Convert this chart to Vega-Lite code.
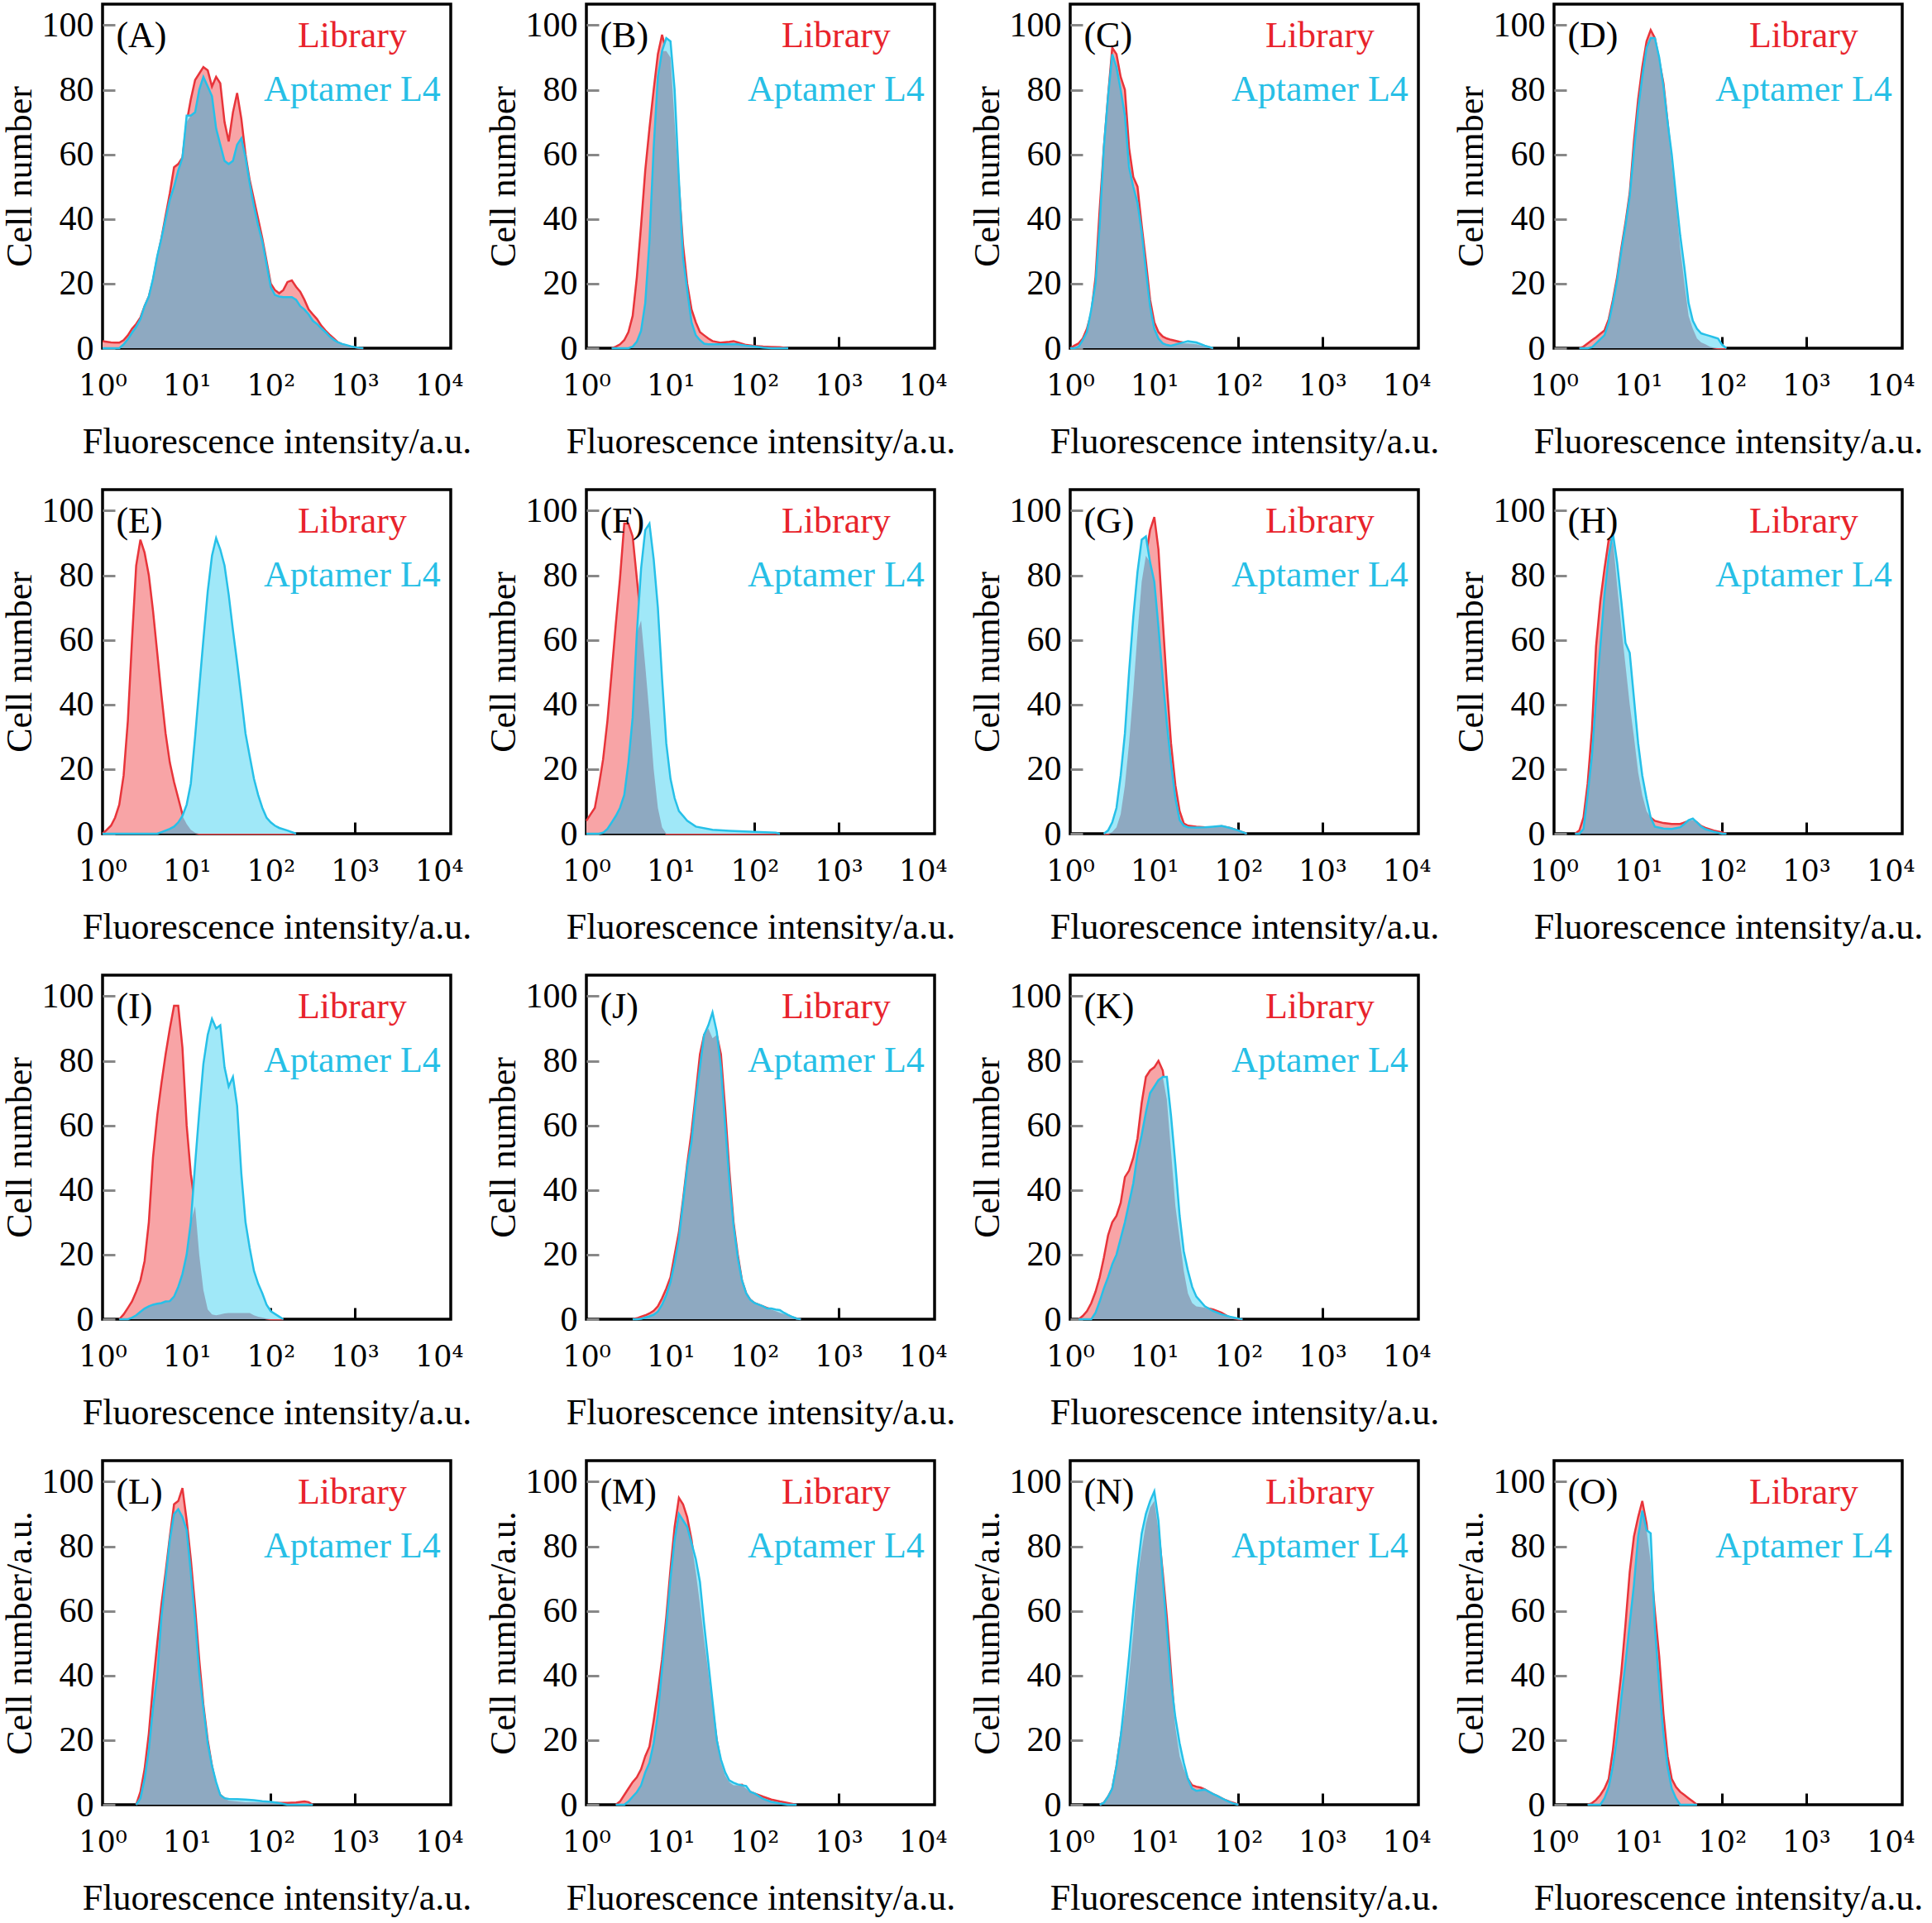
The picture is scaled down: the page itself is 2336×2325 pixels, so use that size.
{
  "$schema": "https://vega.github.io/schema/vega-lite/v6.json",
  "description": "Flow cytometry histograms, Library vs Aptamer L4, panels A-O",
  "autosize": "pad",
  "padding": {"left": 0, "top": 3, "right": 0, "bottom": 0},
  "background": "white",
  "datasets": {
    "h": [
      {"p":"A","x":1,"lib":2.2,"apt":0},{"p":"A","x":1.12,"lib":2,"apt":0},{"p":"A","x":1.26,"lib":1.8,"apt":0},{"p":"A","x":1.41,"lib":1.7,"apt":0},{"p":"A","x":1.58,"lib":1.7,"apt":0},{"p":"A","x":1.78,"lib":2.5,"apt":1.2},{"p":"A","x":2,"lib":4,"apt":2.8},{"p":"A","x":2.24,"lib":6,"apt":4.8},{"p":"A","x":2.51,"lib":7.5,"apt":6.6},{"p":"A","x":2.82,"lib":9.5,"apt":9},{"p":"A","x":3.16,"lib":13,"apt":13},{"p":"A","x":3.55,"lib":16,"apt":16},{"p":"A","x":3.98,"lib":21,"apt":21.5},{"p":"A","x":4.47,"lib":28,"apt":28.5},{"p":"A","x":5.01,"lib":34,"apt":34},{"p":"A","x":5.62,"lib":41,"apt":40},{"p":"A","x":6.31,"lib":48,"apt":46},{"p":"A","x":7.08,"lib":56,"apt":50},{"p":"A","x":7.94,"lib":57,"apt":55},{"p":"A","x":8.91,"lib":59,"apt":59},{"p":"A","x":10,"lib":70,"apt":72},{"p":"A","x":11.2,"lib":77,"apt":72},{"p":"A","x":12.6,"lib":83,"apt":73},{"p":"A","x":14.1,"lib":85,"apt":80},{"p":"A","x":15.8,"lib":87,"apt":84},{"p":"A","x":17.8,"lib":86,"apt":81},{"p":"A","x":20,"lib":81,"apt":78},{"p":"A","x":22.4,"lib":84,"apt":68},{"p":"A","x":25.1,"lib":82,"apt":63},{"p":"A","x":28.2,"lib":70,"apt":58},{"p":"A","x":31.6,"lib":64,"apt":57},{"p":"A","x":35.5,"lib":73,"apt":58},{"p":"A","x":39.8,"lib":79,"apt":63},{"p":"A","x":44.7,"lib":71,"apt":65},{"p":"A","x":50.1,"lib":60,"apt":59},{"p":"A","x":56.2,"lib":52,"apt":51},{"p":"A","x":63.1,"lib":46,"apt":44},{"p":"A","x":70.8,"lib":40,"apt":38},{"p":"A","x":79.4,"lib":34,"apt":33},{"p":"A","x":89.1,"lib":27,"apt":26},{"p":"A","x":100,"lib":20,"apt":19},{"p":"A","x":112,"lib":18,"apt":16.5},{"p":"A","x":126,"lib":17,"apt":16},{"p":"A","x":141,"lib":18,"apt":15.8},{"p":"A","x":158,"lib":20.5,"apt":15.8},{"p":"A","x":178,"lib":21,"apt":15.8},{"p":"A","x":200,"lib":19,"apt":15},{"p":"A","x":224,"lib":17.5,"apt":13},{"p":"A","x":251,"lib":15,"apt":12},{"p":"A","x":282,"lib":12,"apt":10.5},{"p":"A","x":316,"lib":10.5,"apt":8.5},{"p":"A","x":355,"lib":9,"apt":7.5},{"p":"A","x":398,"lib":7,"apt":6.2},{"p":"A","x":447,"lib":5.5,"apt":5},{"p":"A","x":501,"lib":4.2,"apt":3.6},{"p":"A","x":562,"lib":3,"apt":2.6},{"p":"A","x":631,"lib":1.8,"apt":1.8},{"p":"A","x":708,"lib":1.2,"apt":1.3},{"p":"A","x":794,"lib":0.8,"apt":1},{"p":"A","x":891,"lib":0.5,"apt":0.6},{"p":"A","x":1000,"lib":0.3,"apt":0.3},{"p":"A","x":1120,"lib":0,"apt":0.1},{"p":"A","x":1260,"lib":0,"apt":0},
      {"p":"B","x":2,"lib":0,"apt":0},{"p":"B","x":2.24,"lib":0.5,"apt":0},{"p":"B","x":2.51,"lib":1.2,"apt":0},{"p":"B","x":2.82,"lib":2.5,"apt":0},{"p":"B","x":3.16,"lib":5,"apt":0},{"p":"B","x":3.55,"lib":10,"apt":0.5},{"p":"B","x":3.98,"lib":22,"apt":2},{"p":"B","x":4.47,"lib":38,"apt":5.4},{"p":"B","x":5.01,"lib":55,"apt":14},{"p":"B","x":5.62,"lib":68,"apt":33},{"p":"B","x":6.31,"lib":80,"apt":62},{"p":"B","x":7.08,"lib":91,"apt":84},{"p":"B","x":7.94,"lib":97,"apt":92},{"p":"B","x":8.91,"lib":92,"apt":96},{"p":"B","x":10,"lib":90,"apt":95},{"p":"B","x":11.2,"lib":70,"apt":80},{"p":"B","x":12.6,"lib":50,"apt":52},{"p":"B","x":14.1,"lib":32,"apt":28},{"p":"B","x":15.8,"lib":20,"apt":18},{"p":"B","x":17.8,"lib":12,"apt":8},{"p":"B","x":20,"lib":8,"apt":4},{"p":"B","x":22.4,"lib":5,"apt":2.5},{"p":"B","x":25.1,"lib":4,"apt":1.4},{"p":"B","x":28.2,"lib":3,"apt":1.2},{"p":"B","x":31.6,"lib":2.2,"apt":1.2},{"p":"B","x":39.8,"lib":1.7,"apt":1.2},{"p":"B","x":50.1,"lib":2,"apt":1.2},{"p":"B","x":56.2,"lib":2.2,"apt":1.3},{"p":"B","x":63.1,"lib":1.8,"apt":1.2},{"p":"B","x":79.4,"lib":1,"apt":0.8},{"p":"B","x":100,"lib":0.7,"apt":0.5},{"p":"B","x":126,"lib":0.5,"apt":0.2},{"p":"B","x":158,"lib":0.4,"apt":0},{"p":"B","x":200,"lib":0.3,"apt":0},{"p":"B","x":251,"lib":0,"apt":0},
      {"p":"C","x":1,"lib":0,"apt":0},{"p":"C","x":1.12,"lib":0.8,"apt":0},{"p":"C","x":1.26,"lib":1.5,"apt":0.5},{"p":"C","x":1.41,"lib":3,"apt":2.5},{"p":"C","x":1.58,"lib":6,"apt":5},{"p":"C","x":1.78,"lib":11,"apt":12},{"p":"C","x":2,"lib":22,"apt":20},{"p":"C","x":2.24,"lib":43,"apt":38},{"p":"C","x":2.51,"lib":62,"apt":62},{"p":"C","x":2.82,"lib":78,"apt":78},{"p":"C","x":3.16,"lib":93,"apt":91},{"p":"C","x":3.55,"lib":91,"apt":87},{"p":"C","x":3.98,"lib":84,"apt":80},{"p":"C","x":4.47,"lib":80,"apt":72},{"p":"C","x":5.01,"lib":62,"apt":56},{"p":"C","x":5.62,"lib":53,"apt":50},{"p":"C","x":6.31,"lib":50,"apt":45},{"p":"C","x":7.08,"lib":38,"apt":36},{"p":"C","x":7.94,"lib":27,"apt":24},{"p":"C","x":8.91,"lib":15,"apt":13},{"p":"C","x":10,"lib":8,"apt":6},{"p":"C","x":11.2,"lib":5,"apt":3},{"p":"C","x":12.6,"lib":3.6,"apt":1.5},{"p":"C","x":14.1,"lib":3,"apt":1},{"p":"C","x":15.8,"lib":2.6,"apt":0.8},{"p":"C","x":20,"lib":2,"apt":1.5},{"p":"C","x":25.1,"lib":1.5,"apt":2.2},{"p":"C","x":31.6,"lib":1.2,"apt":1.8},{"p":"C","x":39.8,"lib":0.6,"apt":0.8},{"p":"C","x":50.1,"lib":0,"apt":0},
      {"p":"D","x":2,"lib":0,"apt":0},{"p":"D","x":2.24,"lib":0.5,"apt":0},{"p":"D","x":2.51,"lib":1.5,"apt":0},{"p":"D","x":2.82,"lib":2.5,"apt":0.3},{"p":"D","x":3.16,"lib":3.4,"apt":1.5},{"p":"D","x":3.55,"lib":4.5,"apt":2.8},{"p":"D","x":3.98,"lib":5.5,"apt":4},{"p":"D","x":4.47,"lib":9,"apt":8},{"p":"D","x":5.01,"lib":15,"apt":14},{"p":"D","x":5.62,"lib":22,"apt":21},{"p":"D","x":6.31,"lib":31,"apt":30},{"p":"D","x":7.08,"lib":39,"apt":38},{"p":"D","x":7.94,"lib":48,"apt":47},{"p":"D","x":8.91,"lib":64,"apt":61},{"p":"D","x":10,"lib":77,"apt":74},{"p":"D","x":11.2,"lib":87,"apt":84},{"p":"D","x":12.6,"lib":95,"apt":93},{"p":"D","x":14.1,"lib":98.5,"apt":96},{"p":"D","x":15.8,"lib":96,"apt":96},{"p":"D","x":17.8,"lib":89,"apt":90},{"p":"D","x":20,"lib":82,"apt":81},{"p":"D","x":22.4,"lib":70,"apt":70},{"p":"D","x":25.1,"lib":57,"apt":60},{"p":"D","x":28.2,"lib":45,"apt":47},{"p":"D","x":31.6,"lib":31,"apt":35},{"p":"D","x":35.5,"lib":20,"apt":25},{"p":"D","x":39.8,"lib":10,"apt":14},{"p":"D","x":44.7,"lib":6,"apt":8.5},{"p":"D","x":50.1,"lib":3,"apt":6},{"p":"D","x":56.2,"lib":1.8,"apt":4.6},{"p":"D","x":63.1,"lib":1.2,"apt":4.2},{"p":"D","x":70.8,"lib":0.5,"apt":3.8},{"p":"D","x":79.4,"lib":0.2,"apt":3.4},{"p":"D","x":89.1,"lib":0,"apt":3},{"p":"D","x":100,"lib":0,"apt":1},{"p":"D","x":112,"lib":0,"apt":0},
      {"p":"E","x":1,"lib":0,"apt":0},{"p":"E","x":1.12,"lib":1.2,"apt":0},{"p":"E","x":1.26,"lib":2.5,"apt":0},{"p":"E","x":1.41,"lib":5,"apt":0},{"p":"E","x":1.58,"lib":9,"apt":0},{"p":"E","x":1.78,"lib":18,"apt":0},{"p":"E","x":2,"lib":35,"apt":0},{"p":"E","x":2.24,"lib":60,"apt":0},{"p":"E","x":2.51,"lib":83,"apt":0},{"p":"E","x":2.82,"lib":91,"apt":0},{"p":"E","x":3.16,"lib":87,"apt":0},{"p":"E","x":3.55,"lib":80,"apt":0},{"p":"E","x":3.98,"lib":69,"apt":0},{"p":"E","x":4.47,"lib":56,"apt":0},{"p":"E","x":5.01,"lib":43,"apt":0.5},{"p":"E","x":5.62,"lib":31,"apt":1},{"p":"E","x":6.31,"lib":22,"apt":1.5},{"p":"E","x":7.08,"lib":16,"apt":2.2},{"p":"E","x":7.94,"lib":11,"apt":3.5},{"p":"E","x":8.91,"lib":6,"apt":5.5},{"p":"E","x":10,"lib":3,"apt":9},{"p":"E","x":11.2,"lib":1.2,"apt":15.5},{"p":"E","x":12.6,"lib":0.3,"apt":30},{"p":"E","x":14.1,"lib":0,"apt":45},{"p":"E","x":15.8,"lib":0,"apt":60},{"p":"E","x":17.8,"lib":0,"apt":75},{"p":"E","x":20,"lib":0,"apt":86},{"p":"E","x":22.4,"lib":0,"apt":91.5},{"p":"E","x":25.1,"lib":0,"apt":88},{"p":"E","x":28.2,"lib":0,"apt":83},{"p":"E","x":31.6,"lib":0,"apt":74},{"p":"E","x":35.5,"lib":0,"apt":63},{"p":"E","x":39.8,"lib":0,"apt":53},{"p":"E","x":44.7,"lib":0,"apt":42},{"p":"E","x":50.1,"lib":0,"apt":31},{"p":"E","x":56.2,"lib":0,"apt":24},{"p":"E","x":63.1,"lib":0,"apt":17},{"p":"E","x":70.8,"lib":0,"apt":12},{"p":"E","x":79.4,"lib":0,"apt":8},{"p":"E","x":89.1,"lib":0,"apt":5},{"p":"E","x":100,"lib":0,"apt":3.5},{"p":"E","x":112,"lib":0,"apt":2.5},{"p":"E","x":126,"lib":0,"apt":1.8},{"p":"E","x":158,"lib":0,"apt":1},{"p":"E","x":200,"lib":0,"apt":0},
      {"p":"F","x":1,"lib":4,"apt":0},{"p":"F","x":1.12,"lib":6,"apt":0},{"p":"F","x":1.26,"lib":8,"apt":0},{"p":"F","x":1.41,"lib":15,"apt":0},{"p":"F","x":1.58,"lib":23,"apt":0.3},{"p":"F","x":1.78,"lib":35,"apt":1.5},{"p":"F","x":2,"lib":50,"apt":3.5},{"p":"F","x":2.24,"lib":65,"apt":5.5},{"p":"F","x":2.51,"lib":79,"apt":8},{"p":"F","x":2.82,"lib":96,"apt":12},{"p":"F","x":3.16,"lib":96,"apt":22},{"p":"F","x":3.55,"lib":92,"apt":36},{"p":"F","x":3.98,"lib":79,"apt":62},{"p":"F","x":4.47,"lib":66,"apt":82},{"p":"F","x":5.01,"lib":52,"apt":94},{"p":"F","x":5.62,"lib":37,"apt":96},{"p":"F","x":6.31,"lib":20,"apt":85},{"p":"F","x":7.08,"lib":8,"apt":70},{"p":"F","x":7.94,"lib":2,"apt":48},{"p":"F","x":8.91,"lib":0,"apt":28},{"p":"F","x":10,"lib":0,"apt":17},{"p":"F","x":11.2,"lib":0,"apt":11},{"p":"F","x":12.6,"lib":0,"apt":7},{"p":"F","x":15.8,"lib":0,"apt":4},{"p":"F","x":20,"lib":0,"apt":2.2},{"p":"F","x":31.6,"lib":0,"apt":1.2},{"p":"F","x":50.1,"lib":0,"apt":0.9},{"p":"F","x":100,"lib":0,"apt":0.6},{"p":"F","x":178,"lib":0,"apt":0.3},{"p":"F","x":200,"lib":0,"apt":0},
      {"p":"G","x":2.51,"lib":0,"apt":0},{"p":"G","x":2.82,"lib":0,"apt":1},{"p":"G","x":3.16,"lib":0.5,"apt":3.5},{"p":"G","x":3.55,"lib":2,"apt":8},{"p":"G","x":3.98,"lib":6,"apt":18},{"p":"G","x":4.47,"lib":15,"apt":31},{"p":"G","x":5.01,"lib":28,"apt":50},{"p":"G","x":5.62,"lib":44,"apt":67},{"p":"G","x":6.31,"lib":62,"apt":81},{"p":"G","x":7.08,"lib":78,"apt":91},{"p":"G","x":7.94,"lib":86,"apt":92},{"p":"G","x":8.91,"lib":94,"apt":84},{"p":"G","x":10,"lib":98,"apt":78},{"p":"G","x":11.2,"lib":88,"apt":64},{"p":"G","x":12.6,"lib":66,"apt":48},{"p":"G","x":14.1,"lib":46,"apt":34},{"p":"G","x":15.8,"lib":28,"apt":22},{"p":"G","x":17.8,"lib":15,"apt":11},{"p":"G","x":20,"lib":7,"apt":4.2},{"p":"G","x":22.4,"lib":3.2,"apt":2.5},{"p":"G","x":25.1,"lib":2.5,"apt":2},{"p":"G","x":31.6,"lib":2.2,"apt":1.9},{"p":"G","x":39.8,"lib":2,"apt":2},{"p":"G","x":50.1,"lib":2,"apt":2.2},{"p":"G","x":63.1,"lib":2.3,"apt":2.4},{"p":"G","x":79.4,"lib":1.8,"apt":1.8},{"p":"G","x":100,"lib":1,"apt":1},{"p":"G","x":112,"lib":0.5,"apt":0.5},{"p":"G","x":126,"lib":0,"apt":0},
      {"p":"H","x":1.78,"lib":0,"apt":0},{"p":"H","x":2,"lib":1,"apt":0},{"p":"H","x":2.24,"lib":5,"apt":1.5},{"p":"H","x":2.51,"lib":15.5,"apt":12},{"p":"H","x":2.82,"lib":32,"apt":24},{"p":"H","x":3.16,"lib":58,"apt":42},{"p":"H","x":3.55,"lib":72,"apt":58},{"p":"H","x":3.98,"lib":82,"apt":74},{"p":"H","x":4.47,"lib":91,"apt":86},{"p":"H","x":5.01,"lib":91,"apt":93},{"p":"H","x":5.62,"lib":77,"apt":84},{"p":"H","x":6.31,"lib":64,"apt":72},{"p":"H","x":7.08,"lib":52,"apt":59},{"p":"H","x":7.94,"lib":40,"apt":56},{"p":"H","x":8.91,"lib":30,"apt":42},{"p":"H","x":10,"lib":19,"apt":28},{"p":"H","x":11.2,"lib":12,"apt":18},{"p":"H","x":12.6,"lib":7,"apt":10.8},{"p":"H","x":14.1,"lib":5,"apt":5},{"p":"H","x":15.8,"lib":4,"apt":2.2},{"p":"H","x":20,"lib":3.3,"apt":1.6},{"p":"H","x":25.1,"lib":3,"apt":1.5},{"p":"H","x":31.6,"lib":3,"apt":2},{"p":"H","x":35.5,"lib":3.5,"apt":3},{"p":"H","x":39.8,"lib":4,"apt":4.2},{"p":"H","x":44.7,"lib":4.2,"apt":4.7},{"p":"H","x":50.1,"lib":3.5,"apt":3.5},{"p":"H","x":56.2,"lib":2.4,"apt":2.2},{"p":"H","x":63.1,"lib":1.8,"apt":1.4},{"p":"H","x":79.4,"lib":1,"apt":0.6},{"p":"H","x":100,"lib":0.4,"apt":0},{"p":"H","x":112,"lib":0,"apt":0},
      {"p":"I","x":1.58,"lib":0,"apt":0},{"p":"I","x":1.78,"lib":1.5,"apt":0},{"p":"I","x":2,"lib":3.5,"apt":0},{"p":"I","x":2.24,"lib":5.5,"apt":0.5},{"p":"I","x":2.51,"lib":8.5,"apt":1.2},{"p":"I","x":2.82,"lib":12,"apt":2.3},{"p":"I","x":3.16,"lib":18,"apt":3.3},{"p":"I","x":3.55,"lib":30,"apt":4},{"p":"I","x":3.98,"lib":50,"apt":4.5},{"p":"I","x":4.47,"lib":63,"apt":4.8},{"p":"I","x":5.01,"lib":73,"apt":5},{"p":"I","x":5.62,"lib":82,"apt":5.5},{"p":"I","x":6.31,"lib":90,"apt":5.6},{"p":"I","x":7.08,"lib":97,"apt":7},{"p":"I","x":7.94,"lib":97,"apt":10},{"p":"I","x":8.91,"lib":84,"apt":14},{"p":"I","x":10,"lib":60,"apt":20},{"p":"I","x":11.2,"lib":45,"apt":30},{"p":"I","x":12.6,"lib":35,"apt":48},{"p":"I","x":14.1,"lib":20,"apt":64},{"p":"I","x":15.8,"lib":9,"apt":79},{"p":"I","x":17.8,"lib":3,"apt":88},{"p":"I","x":20,"lib":1.5,"apt":93},{"p":"I","x":22.4,"lib":1.2,"apt":90},{"p":"I","x":25.1,"lib":1.5,"apt":91},{"p":"I","x":28.2,"lib":1.8,"apt":78},{"p":"I","x":31.6,"lib":1.9,"apt":72},{"p":"I","x":35.5,"lib":1.9,"apt":75},{"p":"I","x":39.8,"lib":1.9,"apt":66},{"p":"I","x":44.7,"lib":1.9,"apt":45},{"p":"I","x":50.1,"lib":1.9,"apt":30},{"p":"I","x":56.2,"lib":1.9,"apt":22},{"p":"I","x":63.1,"lib":1.2,"apt":15},{"p":"I","x":70.8,"lib":0.8,"apt":11},{"p":"I","x":79.4,"lib":0.5,"apt":8},{"p":"I","x":89.1,"lib":0.2,"apt":4.5},{"p":"I","x":100,"lib":0,"apt":2.5},{"p":"I","x":126,"lib":0,"apt":0.8},{"p":"I","x":141,"lib":0,"apt":0},
      {"p":"J","x":3.55,"lib":0,"apt":0},{"p":"J","x":3.98,"lib":0.3,"apt":0},{"p":"J","x":4.47,"lib":0.8,"apt":0.1},{"p":"J","x":5.01,"lib":1.2,"apt":0.5},{"p":"J","x":5.62,"lib":1.8,"apt":0.9},{"p":"J","x":6.31,"lib":2.6,"apt":1.4},{"p":"J","x":7.08,"lib":4,"apt":2.4},{"p":"J","x":7.94,"lib":6.5,"apt":4.5},{"p":"J","x":8.91,"lib":9.5,"apt":7.5},{"p":"J","x":10,"lib":13,"apt":11.5},{"p":"J","x":11.2,"lib":20,"apt":17.5},{"p":"J","x":12.6,"lib":27,"apt":25},{"p":"J","x":14.1,"lib":37,"apt":36},{"p":"J","x":15.8,"lib":48,"apt":47},{"p":"J","x":17.8,"lib":58,"apt":55},{"p":"J","x":20,"lib":70,"apt":68},{"p":"J","x":22.4,"lib":82,"apt":78},{"p":"J","x":25.1,"lib":88,"apt":88},{"p":"J","x":28.2,"lib":90,"apt":91},{"p":"J","x":31.6,"lib":87,"apt":95},{"p":"J","x":35.5,"lib":88,"apt":89},{"p":"J","x":39.8,"lib":82,"apt":78},{"p":"J","x":44.7,"lib":65,"apt":60},{"p":"J","x":50.1,"lib":46,"apt":43},{"p":"J","x":56.2,"lib":30,"apt":29},{"p":"J","x":63.1,"lib":20,"apt":19},{"p":"J","x":70.8,"lib":12,"apt":12},{"p":"J","x":79.4,"lib":8,"apt":8},{"p":"J","x":89.1,"lib":6,"apt":6},{"p":"J","x":100,"lib":5,"apt":5},{"p":"J","x":126,"lib":4,"apt":4},{"p":"J","x":141,"lib":3.5,"apt":3.3},{"p":"J","x":158,"lib":3,"apt":3.3},{"p":"J","x":178,"lib":2.5,"apt":3},{"p":"J","x":200,"lib":2,"apt":2.8},{"p":"J","x":224,"lib":1.6,"apt":2},{"p":"J","x":251,"lib":1.2,"apt":1.3},{"p":"J","x":282,"lib":0.6,"apt":0.7},{"p":"J","x":316,"lib":0.2,"apt":0.2},{"p":"J","x":355,"lib":0,"apt":0},
      {"p":"K","x":1.26,"lib":0,"apt":0},{"p":"K","x":1.41,"lib":1,"apt":0},{"p":"K","x":1.58,"lib":2.5,"apt":0},{"p":"K","x":1.78,"lib":5,"apt":0},{"p":"K","x":2,"lib":8.5,"apt":2},{"p":"K","x":2.24,"lib":13,"apt":5.5},{"p":"K","x":2.51,"lib":19,"apt":9.5},{"p":"K","x":2.82,"lib":26,"apt":13},{"p":"K","x":3.16,"lib":30,"apt":17},{"p":"K","x":3.55,"lib":32,"apt":20},{"p":"K","x":3.98,"lib":36,"apt":25},{"p":"K","x":4.47,"lib":44,"apt":30},{"p":"K","x":5.01,"lib":46,"apt":36},{"p":"K","x":5.62,"lib":50,"apt":42},{"p":"K","x":6.31,"lib":56,"apt":51},{"p":"K","x":7.08,"lib":67,"apt":57},{"p":"K","x":7.94,"lib":75,"apt":64},{"p":"K","x":8.91,"lib":77,"apt":70},{"p":"K","x":10,"lib":78,"apt":72},{"p":"K","x":11.2,"lib":80,"apt":74},{"p":"K","x":12.6,"lib":77,"apt":75},{"p":"K","x":14.1,"lib":68,"apt":75},{"p":"K","x":15.8,"lib":52,"apt":63},{"p":"K","x":17.8,"lib":35,"apt":48},{"p":"K","x":20,"lib":25,"apt":32},{"p":"K","x":22.4,"lib":15,"apt":21},{"p":"K","x":25.1,"lib":8,"apt":15},{"p":"K","x":28.2,"lib":5,"apt":10},{"p":"K","x":31.6,"lib":4,"apt":7},{"p":"K","x":39.8,"lib":3.6,"apt":4},{"p":"K","x":50.1,"lib":3,"apt":2.5},{"p":"K","x":63.1,"lib":2,"apt":1.5},{"p":"K","x":79.4,"lib":0.5,"apt":0.8},{"p":"K","x":100,"lib":0,"apt":0.2},{"p":"K","x":112,"lib":0,"apt":0},
      {"p":"L","x":2.51,"lib":0,"apt":0},{"p":"L","x":2.82,"lib":4,"apt":2},{"p":"L","x":3.16,"lib":11,"apt":8},{"p":"L","x":3.55,"lib":22,"apt":17},{"p":"L","x":3.98,"lib":37,"apt":30},{"p":"L","x":4.47,"lib":50,"apt":40},{"p":"L","x":5.01,"lib":62,"apt":58},{"p":"L","x":5.62,"lib":72,"apt":70},{"p":"L","x":6.31,"lib":83,"apt":82},{"p":"L","x":7.08,"lib":93,"apt":90},{"p":"L","x":7.94,"lib":94,"apt":91.5},{"p":"L","x":8.91,"lib":98,"apt":89},{"p":"L","x":10,"lib":88,"apt":85},{"p":"L","x":11.2,"lib":76,"apt":72},{"p":"L","x":12.6,"lib":61,"apt":57},{"p":"L","x":14.1,"lib":45,"apt":41},{"p":"L","x":15.8,"lib":31,"apt":30},{"p":"L","x":17.8,"lib":20,"apt":19},{"p":"L","x":20,"lib":12,"apt":12},{"p":"L","x":22.4,"lib":6,"apt":7},{"p":"L","x":25.1,"lib":3,"apt":3},{"p":"L","x":28.2,"lib":2,"apt":2},{"p":"L","x":31.6,"lib":1.3,"apt":1.8},{"p":"L","x":39.8,"lib":1,"apt":1.7},{"p":"L","x":50.1,"lib":0.8,"apt":1.6},{"p":"L","x":63.1,"lib":0.8,"apt":1.4},{"p":"L","x":79.4,"lib":0.7,"apt":1.1},{"p":"L","x":100,"lib":0.7,"apt":0.9},{"p":"L","x":126,"lib":0.6,"apt":0.5},{"p":"L","x":158,"lib":0.6,"apt":0},{"p":"L","x":200,"lib":0.7,"apt":0},{"p":"L","x":251,"lib":1,"apt":0},{"p":"L","x":282,"lib":0.8,"apt":0},{"p":"L","x":316,"lib":0,"apt":0},
      {"p":"M","x":2.24,"lib":0,"apt":0},{"p":"M","x":2.51,"lib":1,"apt":0},{"p":"M","x":2.82,"lib":3,"apt":0},{"p":"M","x":3.16,"lib":5,"apt":1},{"p":"M","x":3.55,"lib":7,"apt":2.5},{"p":"M","x":3.98,"lib":8.5,"apt":3.9},{"p":"M","x":4.47,"lib":11,"apt":6},{"p":"M","x":5.01,"lib":15,"apt":10},{"p":"M","x":5.62,"lib":18,"apt":13},{"p":"M","x":6.31,"lib":26,"apt":19},{"p":"M","x":7.08,"lib":35,"apt":28},{"p":"M","x":7.94,"lib":45,"apt":42},{"p":"M","x":8.91,"lib":58,"apt":55},{"p":"M","x":10,"lib":73,"apt":70},{"p":"M","x":11.2,"lib":86,"apt":82},{"p":"M","x":12.6,"lib":95,"apt":90},{"p":"M","x":14.1,"lib":93,"apt":88},{"p":"M","x":15.8,"lib":89,"apt":86},{"p":"M","x":17.8,"lib":82,"apt":81},{"p":"M","x":20,"lib":72,"apt":76},{"p":"M","x":22.4,"lib":62,"apt":69},{"p":"M","x":25.1,"lib":51,"apt":56},{"p":"M","x":28.2,"lib":41,"apt":44},{"p":"M","x":31.6,"lib":30,"apt":32},{"p":"M","x":35.5,"lib":20,"apt":20},{"p":"M","x":39.8,"lib":13,"apt":14},{"p":"M","x":44.7,"lib":9,"apt":10},{"p":"M","x":50.1,"lib":7,"apt":7.5},{"p":"M","x":56.2,"lib":6,"apt":6.8},{"p":"M","x":63.1,"lib":6,"apt":6.3},{"p":"M","x":70.8,"lib":6.2,"apt":6},{"p":"M","x":79.4,"lib":5,"apt":5.8},{"p":"M","x":89.1,"lib":4,"apt":4},{"p":"M","x":100,"lib":3.5,"apt":3.5},{"p":"M","x":126,"lib":2.5,"apt":1.8},{"p":"M","x":158,"lib":1.6,"apt":0.9},{"p":"M","x":200,"lib":1,"apt":0.4},{"p":"M","x":251,"lib":0.5,"apt":0},{"p":"M","x":316,"lib":0,"apt":0},
      {"p":"N","x":2.24,"lib":0,"apt":0},{"p":"N","x":2.51,"lib":0.6,"apt":0.6},{"p":"N","x":2.82,"lib":2.5,"apt":2.5},{"p":"N","x":3.16,"lib":5,"apt":5},{"p":"N","x":3.55,"lib":12,"apt":12},{"p":"N","x":3.98,"lib":21,"apt":21},{"p":"N","x":4.47,"lib":29,"apt":33},{"p":"N","x":5.01,"lib":40,"apt":46},{"p":"N","x":5.62,"lib":53,"apt":60},{"p":"N","x":6.31,"lib":70,"apt":73},{"p":"N","x":7.08,"lib":79,"apt":84},{"p":"N","x":7.94,"lib":87,"apt":90},{"p":"N","x":8.91,"lib":92,"apt":94},{"p":"N","x":10,"lib":94,"apt":97},{"p":"N","x":11.2,"lib":85,"apt":88},{"p":"N","x":12.6,"lib":72,"apt":70},{"p":"N","x":14.1,"lib":58,"apt":54},{"p":"N","x":15.8,"lib":41,"apt":38},{"p":"N","x":17.8,"lib":24,"apt":27},{"p":"N","x":20,"lib":15,"apt":19},{"p":"N","x":22.4,"lib":11,"apt":13},{"p":"N","x":25.1,"lib":8,"apt":8},{"p":"N","x":28.2,"lib":6,"apt":5},{"p":"N","x":31.6,"lib":5.6,"apt":4.3},{"p":"N","x":35.5,"lib":5.3,"apt":4.5},{"p":"N","x":39.8,"lib":4.8,"apt":4.7},{"p":"N","x":44.7,"lib":4,"apt":4},{"p":"N","x":50.1,"lib":3.3,"apt":3.3},{"p":"N","x":56.2,"lib":2.7,"apt":2.7},{"p":"N","x":63.1,"lib":2,"apt":2},{"p":"N","x":70.8,"lib":1.4,"apt":1.4},{"p":"N","x":79.4,"lib":0.9,"apt":0.8},{"p":"N","x":89.1,"lib":0.5,"apt":0.3},{"p":"N","x":100,"lib":0,"apt":0},
      {"p":"O","x":2.51,"lib":0,"apt":0},{"p":"O","x":2.82,"lib":0.5,"apt":0},{"p":"O","x":3.16,"lib":1.5,"apt":0},{"p":"O","x":3.55,"lib":3,"apt":0},{"p":"O","x":3.98,"lib":5,"apt":2},{"p":"O","x":4.47,"lib":8,"apt":5.5},{"p":"O","x":5.01,"lib":17,"apt":12},{"p":"O","x":5.62,"lib":29,"apt":21},{"p":"O","x":6.31,"lib":41,"apt":33},{"p":"O","x":7.08,"lib":56,"apt":44},{"p":"O","x":7.94,"lib":72,"apt":56},{"p":"O","x":8.91,"lib":83,"apt":68},{"p":"O","x":10,"lib":89,"apt":83},{"p":"O","x":11.2,"lib":94,"apt":91},{"p":"O","x":12.6,"lib":87,"apt":85},{"p":"O","x":14.1,"lib":75,"apt":84},{"p":"O","x":15.8,"lib":60,"apt":55},{"p":"O","x":17.8,"lib":46,"apt":37},{"p":"O","x":20,"lib":28,"apt":22},{"p":"O","x":22.4,"lib":15,"apt":11.7},{"p":"O","x":25.1,"lib":8,"apt":5},{"p":"O","x":28.2,"lib":5.5,"apt":2},{"p":"O","x":31.6,"lib":4,"apt":0},{"p":"O","x":35.5,"lib":3,"apt":0},{"p":"O","x":39.8,"lib":2,"apt":0},{"p":"O","x":44.7,"lib":1,"apt":0},{"p":"O","x":50.1,"lib":0,"apt":0}
    ]
  },
  "data": {"name": "h"},
  "columns": 4,
  "bounds": "flush",
  "spacing": {"row": 171, "column": 164},
  "concat": [
    {"width":421,"height":416,"transform":[{"filter":"datum.p=='A'"}],"layer":[
      {"mark":{"type":"area","color":"#f8a4a6"},"encoding":{"x":{"field":"x","type":"quantitative","scale":{"type":"log","domain":[1,13800],"nice":false},"axis":{"values":[1,10,100,1000,10000],"title":"Fluorescence intensity/a.u.","labelExpr":"datum.value < 5 ? '10⁰' : datum.value < 50 ? '10¹' : datum.value < 500 ? '10²' : datum.value < 5000 ? '10³' : '10⁴'","tickColor":{"condition":{"test":"datum.value < 5 || datum.value > 5000","value":"transparent"},"value":"black"}}},"y":{"field":"lib","type":"quantitative","scale":{"domain":[0,106.5],"nice":false},"axis":{"values":[0,20,40,60,80,100],"title":"Cell number"}}}},
      {"mark":{"type":"line","color":"#e8343a","strokeWidth":2.5},"encoding":{"x":{"field":"x","type":"quantitative","scale":{"type":"log","domain":[1,13800],"nice":false}},"y":{"field":"lib","type":"quantitative","scale":{"domain":[0,106.5],"nice":false}}}},
      {"mark":{"type":"area","color":"#a0e8f8"},"encoding":{"x":{"field":"x","type":"quantitative","scale":{"type":"log","domain":[1,13800],"nice":false}},"y":{"field":"apt","type":"quantitative","scale":{"domain":[0,106.5],"nice":false}}}},
      {"transform":[{"fold":["lib","apt"],"as":["s","n"]}],"mark":{"type":"area","color":"#8b9eb7","opacity":0.85},"encoding":{"x":{"field":"x","type":"quantitative","scale":{"type":"log","domain":[1,13800],"nice":false}},"y":{"aggregate":"min","field":"n","type":"quantitative","scale":{"domain":[0,106.5],"nice":false}}}},
      {"mark":{"type":"line","color":"#26c0e8","strokeWidth":2.5},"encoding":{"x":{"field":"x","type":"quantitative","scale":{"type":"log","domain":[1,13800],"nice":false}},"y":{"field":"apt","type":"quantitative","scale":{"domain":[0,106.5],"nice":false}}}},
      {"data":{"values":[{"t":"(A)"}]},"mark":{"type":"text","align":"left","color":"black"},"encoding":{"x":{"datum":1.45,"type":"quantitative","scale":{"type":"log","domain":[1,13800],"nice":false}},"y":{"datum":93.2,"type":"quantitative","scale":{"domain":[0,106.5],"nice":false}},"text":{"field":"t"}}},
      {"data":{"values":[{"t":"Library"}]},"mark":{"type":"text","align":"center","color":"#e8232b"},"encoding":{"x":{"datum":930,"type":"quantitative","scale":{"type":"log","domain":[1,13800],"nice":false}},"y":{"datum":93.2,"type":"quantitative","scale":{"domain":[0,106.5],"nice":false}},"text":{"field":"t"}}},
      {"data":{"values":[{"t":"Aptamer L4"}]},"mark":{"type":"text","align":"center","color":"#27bfe6"},"encoding":{"x":{"datum":930,"type":"quantitative","scale":{"type":"log","domain":[1,13800],"nice":false}},"y":{"datum":76.5,"type":"quantitative","scale":{"domain":[0,106.5],"nice":false}},"text":{"field":"t"}}}
    ]},
    {"width":421,"height":416,"transform":[{"filter":"datum.p=='B'"}],"layer":[
      {"mark":{"type":"area","color":"#f8a4a6"},"encoding":{"x":{"field":"x","type":"quantitative","scale":{"type":"log","domain":[1,13800],"nice":false},"axis":{"values":[1,10,100,1000,10000],"title":"Fluorescence intensity/a.u.","labelExpr":"datum.value < 5 ? '10⁰' : datum.value < 50 ? '10¹' : datum.value < 500 ? '10²' : datum.value < 5000 ? '10³' : '10⁴'","tickColor":{"condition":{"test":"datum.value < 5 || datum.value > 5000","value":"transparent"},"value":"black"}}},"y":{"field":"lib","type":"quantitative","scale":{"domain":[0,106.5],"nice":false},"axis":{"values":[0,20,40,60,80,100],"title":"Cell number"}}}},
      {"mark":{"type":"line","color":"#e8343a","strokeWidth":2.5},"encoding":{"x":{"field":"x","type":"quantitative","scale":{"type":"log","domain":[1,13800],"nice":false}},"y":{"field":"lib","type":"quantitative","scale":{"domain":[0,106.5],"nice":false}}}},
      {"mark":{"type":"area","color":"#a0e8f8"},"encoding":{"x":{"field":"x","type":"quantitative","scale":{"type":"log","domain":[1,13800],"nice":false}},"y":{"field":"apt","type":"quantitative","scale":{"domain":[0,106.5],"nice":false}}}},
      {"transform":[{"fold":["lib","apt"],"as":["s","n"]}],"mark":{"type":"area","color":"#8b9eb7","opacity":0.85},"encoding":{"x":{"field":"x","type":"quantitative","scale":{"type":"log","domain":[1,13800],"nice":false}},"y":{"aggregate":"min","field":"n","type":"quantitative","scale":{"domain":[0,106.5],"nice":false}}}},
      {"mark":{"type":"line","color":"#26c0e8","strokeWidth":2.5},"encoding":{"x":{"field":"x","type":"quantitative","scale":{"type":"log","domain":[1,13800],"nice":false}},"y":{"field":"apt","type":"quantitative","scale":{"domain":[0,106.5],"nice":false}}}},
      {"data":{"values":[{"t":"(B)"}]},"mark":{"type":"text","align":"left","color":"black"},"encoding":{"x":{"datum":1.45,"type":"quantitative","scale":{"type":"log","domain":[1,13800],"nice":false}},"y":{"datum":93.2,"type":"quantitative","scale":{"domain":[0,106.5],"nice":false}},"text":{"field":"t"}}},
      {"data":{"values":[{"t":"Library"}]},"mark":{"type":"text","align":"center","color":"#e8232b"},"encoding":{"x":{"datum":930,"type":"quantitative","scale":{"type":"log","domain":[1,13800],"nice":false}},"y":{"datum":93.2,"type":"quantitative","scale":{"domain":[0,106.5],"nice":false}},"text":{"field":"t"}}},
      {"data":{"values":[{"t":"Aptamer L4"}]},"mark":{"type":"text","align":"center","color":"#27bfe6"},"encoding":{"x":{"datum":930,"type":"quantitative","scale":{"type":"log","domain":[1,13800],"nice":false}},"y":{"datum":76.5,"type":"quantitative","scale":{"domain":[0,106.5],"nice":false}},"text":{"field":"t"}}}
    ]},
    {"width":421,"height":416,"transform":[{"filter":"datum.p=='C'"}],"layer":[
      {"mark":{"type":"area","color":"#f8a4a6"},"encoding":{"x":{"field":"x","type":"quantitative","scale":{"type":"log","domain":[1,13800],"nice":false},"axis":{"values":[1,10,100,1000,10000],"title":"Fluorescence intensity/a.u.","labelExpr":"datum.value < 5 ? '10⁰' : datum.value < 50 ? '10¹' : datum.value < 500 ? '10²' : datum.value < 5000 ? '10³' : '10⁴'","tickColor":{"condition":{"test":"datum.value < 5 || datum.value > 5000","value":"transparent"},"value":"black"}}},"y":{"field":"lib","type":"quantitative","scale":{"domain":[0,106.5],"nice":false},"axis":{"values":[0,20,40,60,80,100],"title":"Cell number"}}}},
      {"mark":{"type":"line","color":"#e8343a","strokeWidth":2.5},"encoding":{"x":{"field":"x","type":"quantitative","scale":{"type":"log","domain":[1,13800],"nice":false}},"y":{"field":"lib","type":"quantitative","scale":{"domain":[0,106.5],"nice":false}}}},
      {"mark":{"type":"area","color":"#a0e8f8"},"encoding":{"x":{"field":"x","type":"quantitative","scale":{"type":"log","domain":[1,13800],"nice":false}},"y":{"field":"apt","type":"quantitative","scale":{"domain":[0,106.5],"nice":false}}}},
      {"transform":[{"fold":["lib","apt"],"as":["s","n"]}],"mark":{"type":"area","color":"#8b9eb7","opacity":0.85},"encoding":{"x":{"field":"x","type":"quantitative","scale":{"type":"log","domain":[1,13800],"nice":false}},"y":{"aggregate":"min","field":"n","type":"quantitative","scale":{"domain":[0,106.5],"nice":false}}}},
      {"mark":{"type":"line","color":"#26c0e8","strokeWidth":2.5},"encoding":{"x":{"field":"x","type":"quantitative","scale":{"type":"log","domain":[1,13800],"nice":false}},"y":{"field":"apt","type":"quantitative","scale":{"domain":[0,106.5],"nice":false}}}},
      {"data":{"values":[{"t":"(C)"}]},"mark":{"type":"text","align":"left","color":"black"},"encoding":{"x":{"datum":1.45,"type":"quantitative","scale":{"type":"log","domain":[1,13800],"nice":false}},"y":{"datum":93.2,"type":"quantitative","scale":{"domain":[0,106.5],"nice":false}},"text":{"field":"t"}}},
      {"data":{"values":[{"t":"Library"}]},"mark":{"type":"text","align":"center","color":"#e8232b"},"encoding":{"x":{"datum":930,"type":"quantitative","scale":{"type":"log","domain":[1,13800],"nice":false}},"y":{"datum":93.2,"type":"quantitative","scale":{"domain":[0,106.5],"nice":false}},"text":{"field":"t"}}},
      {"data":{"values":[{"t":"Aptamer L4"}]},"mark":{"type":"text","align":"center","color":"#27bfe6"},"encoding":{"x":{"datum":930,"type":"quantitative","scale":{"type":"log","domain":[1,13800],"nice":false}},"y":{"datum":76.5,"type":"quantitative","scale":{"domain":[0,106.5],"nice":false}},"text":{"field":"t"}}}
    ]},
    {"width":421,"height":416,"transform":[{"filter":"datum.p=='D'"}],"layer":[
      {"mark":{"type":"area","color":"#f8a4a6"},"encoding":{"x":{"field":"x","type":"quantitative","scale":{"type":"log","domain":[1,13800],"nice":false},"axis":{"values":[1,10,100,1000,10000],"title":"Fluorescence intensity/a.u.","labelExpr":"datum.value < 5 ? '10⁰' : datum.value < 50 ? '10¹' : datum.value < 500 ? '10²' : datum.value < 5000 ? '10³' : '10⁴'","tickColor":{"condition":{"test":"datum.value < 5 || datum.value > 5000","value":"transparent"},"value":"black"}}},"y":{"field":"lib","type":"quantitative","scale":{"domain":[0,106.5],"nice":false},"axis":{"values":[0,20,40,60,80,100],"title":"Cell number"}}}},
      {"mark":{"type":"line","color":"#e8343a","strokeWidth":2.5},"encoding":{"x":{"field":"x","type":"quantitative","scale":{"type":"log","domain":[1,13800],"nice":false}},"y":{"field":"lib","type":"quantitative","scale":{"domain":[0,106.5],"nice":false}}}},
      {"mark":{"type":"area","color":"#a0e8f8"},"encoding":{"x":{"field":"x","type":"quantitative","scale":{"type":"log","domain":[1,13800],"nice":false}},"y":{"field":"apt","type":"quantitative","scale":{"domain":[0,106.5],"nice":false}}}},
      {"transform":[{"fold":["lib","apt"],"as":["s","n"]}],"mark":{"type":"area","color":"#8b9eb7","opacity":0.85},"encoding":{"x":{"field":"x","type":"quantitative","scale":{"type":"log","domain":[1,13800],"nice":false}},"y":{"aggregate":"min","field":"n","type":"quantitative","scale":{"domain":[0,106.5],"nice":false}}}},
      {"mark":{"type":"line","color":"#26c0e8","strokeWidth":2.5},"encoding":{"x":{"field":"x","type":"quantitative","scale":{"type":"log","domain":[1,13800],"nice":false}},"y":{"field":"apt","type":"quantitative","scale":{"domain":[0,106.5],"nice":false}}}},
      {"data":{"values":[{"t":"(D)"}]},"mark":{"type":"text","align":"left","color":"black"},"encoding":{"x":{"datum":1.45,"type":"quantitative","scale":{"type":"log","domain":[1,13800],"nice":false}},"y":{"datum":93.2,"type":"quantitative","scale":{"domain":[0,106.5],"nice":false}},"text":{"field":"t"}}},
      {"data":{"values":[{"t":"Library"}]},"mark":{"type":"text","align":"center","color":"#e8232b"},"encoding":{"x":{"datum":930,"type":"quantitative","scale":{"type":"log","domain":[1,13800],"nice":false}},"y":{"datum":93.2,"type":"quantitative","scale":{"domain":[0,106.5],"nice":false}},"text":{"field":"t"}}},
      {"data":{"values":[{"t":"Aptamer L4"}]},"mark":{"type":"text","align":"center","color":"#27bfe6"},"encoding":{"x":{"datum":930,"type":"quantitative","scale":{"type":"log","domain":[1,13800],"nice":false}},"y":{"datum":76.5,"type":"quantitative","scale":{"domain":[0,106.5],"nice":false}},"text":{"field":"t"}}}
    ]},
    {"width":421,"height":416,"transform":[{"filter":"datum.p=='E'"}],"layer":[
      {"mark":{"type":"area","color":"#f8a4a6"},"encoding":{"x":{"field":"x","type":"quantitative","scale":{"type":"log","domain":[1,13800],"nice":false},"axis":{"values":[1,10,100,1000,10000],"title":"Fluorescence intensity/a.u.","labelExpr":"datum.value < 5 ? '10⁰' : datum.value < 50 ? '10¹' : datum.value < 500 ? '10²' : datum.value < 5000 ? '10³' : '10⁴'","tickColor":{"condition":{"test":"datum.value < 5 || datum.value > 5000","value":"transparent"},"value":"black"}}},"y":{"field":"lib","type":"quantitative","scale":{"domain":[0,106.5],"nice":false},"axis":{"values":[0,20,40,60,80,100],"title":"Cell number"}}}},
      {"mark":{"type":"line","color":"#e8343a","strokeWidth":2.5},"encoding":{"x":{"field":"x","type":"quantitative","scale":{"type":"log","domain":[1,13800],"nice":false}},"y":{"field":"lib","type":"quantitative","scale":{"domain":[0,106.5],"nice":false}}}},
      {"mark":{"type":"area","color":"#a0e8f8"},"encoding":{"x":{"field":"x","type":"quantitative","scale":{"type":"log","domain":[1,13800],"nice":false}},"y":{"field":"apt","type":"quantitative","scale":{"domain":[0,106.5],"nice":false}}}},
      {"transform":[{"fold":["lib","apt"],"as":["s","n"]}],"mark":{"type":"area","color":"#8b9eb7","opacity":0.85},"encoding":{"x":{"field":"x","type":"quantitative","scale":{"type":"log","domain":[1,13800],"nice":false}},"y":{"aggregate":"min","field":"n","type":"quantitative","scale":{"domain":[0,106.5],"nice":false}}}},
      {"mark":{"type":"line","color":"#26c0e8","strokeWidth":2.5},"encoding":{"x":{"field":"x","type":"quantitative","scale":{"type":"log","domain":[1,13800],"nice":false}},"y":{"field":"apt","type":"quantitative","scale":{"domain":[0,106.5],"nice":false}}}},
      {"data":{"values":[{"t":"(E)"}]},"mark":{"type":"text","align":"left","color":"black"},"encoding":{"x":{"datum":1.45,"type":"quantitative","scale":{"type":"log","domain":[1,13800],"nice":false}},"y":{"datum":93.2,"type":"quantitative","scale":{"domain":[0,106.5],"nice":false}},"text":{"field":"t"}}},
      {"data":{"values":[{"t":"Library"}]},"mark":{"type":"text","align":"center","color":"#e8232b"},"encoding":{"x":{"datum":930,"type":"quantitative","scale":{"type":"log","domain":[1,13800],"nice":false}},"y":{"datum":93.2,"type":"quantitative","scale":{"domain":[0,106.5],"nice":false}},"text":{"field":"t"}}},
      {"data":{"values":[{"t":"Aptamer L4"}]},"mark":{"type":"text","align":"center","color":"#27bfe6"},"encoding":{"x":{"datum":930,"type":"quantitative","scale":{"type":"log","domain":[1,13800],"nice":false}},"y":{"datum":76.5,"type":"quantitative","scale":{"domain":[0,106.5],"nice":false}},"text":{"field":"t"}}}
    ]},
    {"width":421,"height":416,"transform":[{"filter":"datum.p=='F'"}],"layer":[
      {"mark":{"type":"area","color":"#f8a4a6"},"encoding":{"x":{"field":"x","type":"quantitative","scale":{"type":"log","domain":[1,13800],"nice":false},"axis":{"values":[1,10,100,1000,10000],"title":"Fluorescence intensity/a.u.","labelExpr":"datum.value < 5 ? '10⁰' : datum.value < 50 ? '10¹' : datum.value < 500 ? '10²' : datum.value < 5000 ? '10³' : '10⁴'","tickColor":{"condition":{"test":"datum.value < 5 || datum.value > 5000","value":"transparent"},"value":"black"}}},"y":{"field":"lib","type":"quantitative","scale":{"domain":[0,106.5],"nice":false},"axis":{"values":[0,20,40,60,80,100],"title":"Cell number"}}}},
      {"mark":{"type":"line","color":"#e8343a","strokeWidth":2.5},"encoding":{"x":{"field":"x","type":"quantitative","scale":{"type":"log","domain":[1,13800],"nice":false}},"y":{"field":"lib","type":"quantitative","scale":{"domain":[0,106.5],"nice":false}}}},
      {"mark":{"type":"area","color":"#a0e8f8"},"encoding":{"x":{"field":"x","type":"quantitative","scale":{"type":"log","domain":[1,13800],"nice":false}},"y":{"field":"apt","type":"quantitative","scale":{"domain":[0,106.5],"nice":false}}}},
      {"transform":[{"fold":["lib","apt"],"as":["s","n"]}],"mark":{"type":"area","color":"#8b9eb7","opacity":0.85},"encoding":{"x":{"field":"x","type":"quantitative","scale":{"type":"log","domain":[1,13800],"nice":false}},"y":{"aggregate":"min","field":"n","type":"quantitative","scale":{"domain":[0,106.5],"nice":false}}}},
      {"mark":{"type":"line","color":"#26c0e8","strokeWidth":2.5},"encoding":{"x":{"field":"x","type":"quantitative","scale":{"type":"log","domain":[1,13800],"nice":false}},"y":{"field":"apt","type":"quantitative","scale":{"domain":[0,106.5],"nice":false}}}},
      {"data":{"values":[{"t":"(F)"}]},"mark":{"type":"text","align":"left","color":"black"},"encoding":{"x":{"datum":1.45,"type":"quantitative","scale":{"type":"log","domain":[1,13800],"nice":false}},"y":{"datum":93.2,"type":"quantitative","scale":{"domain":[0,106.5],"nice":false}},"text":{"field":"t"}}},
      {"data":{"values":[{"t":"Library"}]},"mark":{"type":"text","align":"center","color":"#e8232b"},"encoding":{"x":{"datum":930,"type":"quantitative","scale":{"type":"log","domain":[1,13800],"nice":false}},"y":{"datum":93.2,"type":"quantitative","scale":{"domain":[0,106.5],"nice":false}},"text":{"field":"t"}}},
      {"data":{"values":[{"t":"Aptamer L4"}]},"mark":{"type":"text","align":"center","color":"#27bfe6"},"encoding":{"x":{"datum":930,"type":"quantitative","scale":{"type":"log","domain":[1,13800],"nice":false}},"y":{"datum":76.5,"type":"quantitative","scale":{"domain":[0,106.5],"nice":false}},"text":{"field":"t"}}}
    ]},
    {"width":421,"height":416,"transform":[{"filter":"datum.p=='G'"}],"layer":[
      {"mark":{"type":"area","color":"#f8a4a6"},"encoding":{"x":{"field":"x","type":"quantitative","scale":{"type":"log","domain":[1,13800],"nice":false},"axis":{"values":[1,10,100,1000,10000],"title":"Fluorescence intensity/a.u.","labelExpr":"datum.value < 5 ? '10⁰' : datum.value < 50 ? '10¹' : datum.value < 500 ? '10²' : datum.value < 5000 ? '10³' : '10⁴'","tickColor":{"condition":{"test":"datum.value < 5 || datum.value > 5000","value":"transparent"},"value":"black"}}},"y":{"field":"lib","type":"quantitative","scale":{"domain":[0,106.5],"nice":false},"axis":{"values":[0,20,40,60,80,100],"title":"Cell number"}}}},
      {"mark":{"type":"line","color":"#e8343a","strokeWidth":2.5},"encoding":{"x":{"field":"x","type":"quantitative","scale":{"type":"log","domain":[1,13800],"nice":false}},"y":{"field":"lib","type":"quantitative","scale":{"domain":[0,106.5],"nice":false}}}},
      {"mark":{"type":"area","color":"#a0e8f8"},"encoding":{"x":{"field":"x","type":"quantitative","scale":{"type":"log","domain":[1,13800],"nice":false}},"y":{"field":"apt","type":"quantitative","scale":{"domain":[0,106.5],"nice":false}}}},
      {"transform":[{"fold":["lib","apt"],"as":["s","n"]}],"mark":{"type":"area","color":"#8b9eb7","opacity":0.85},"encoding":{"x":{"field":"x","type":"quantitative","scale":{"type":"log","domain":[1,13800],"nice":false}},"y":{"aggregate":"min","field":"n","type":"quantitative","scale":{"domain":[0,106.5],"nice":false}}}},
      {"mark":{"type":"line","color":"#26c0e8","strokeWidth":2.5},"encoding":{"x":{"field":"x","type":"quantitative","scale":{"type":"log","domain":[1,13800],"nice":false}},"y":{"field":"apt","type":"quantitative","scale":{"domain":[0,106.5],"nice":false}}}},
      {"data":{"values":[{"t":"(G)"}]},"mark":{"type":"text","align":"left","color":"black"},"encoding":{"x":{"datum":1.45,"type":"quantitative","scale":{"type":"log","domain":[1,13800],"nice":false}},"y":{"datum":93.2,"type":"quantitative","scale":{"domain":[0,106.5],"nice":false}},"text":{"field":"t"}}},
      {"data":{"values":[{"t":"Library"}]},"mark":{"type":"text","align":"center","color":"#e8232b"},"encoding":{"x":{"datum":930,"type":"quantitative","scale":{"type":"log","domain":[1,13800],"nice":false}},"y":{"datum":93.2,"type":"quantitative","scale":{"domain":[0,106.5],"nice":false}},"text":{"field":"t"}}},
      {"data":{"values":[{"t":"Aptamer L4"}]},"mark":{"type":"text","align":"center","color":"#27bfe6"},"encoding":{"x":{"datum":930,"type":"quantitative","scale":{"type":"log","domain":[1,13800],"nice":false}},"y":{"datum":76.5,"type":"quantitative","scale":{"domain":[0,106.5],"nice":false}},"text":{"field":"t"}}}
    ]},
    {"width":421,"height":416,"transform":[{"filter":"datum.p=='H'"}],"layer":[
      {"mark":{"type":"area","color":"#f8a4a6"},"encoding":{"x":{"field":"x","type":"quantitative","scale":{"type":"log","domain":[1,13800],"nice":false},"axis":{"values":[1,10,100,1000,10000],"title":"Fluorescence intensity/a.u.","labelExpr":"datum.value < 5 ? '10⁰' : datum.value < 50 ? '10¹' : datum.value < 500 ? '10²' : datum.value < 5000 ? '10³' : '10⁴'","tickColor":{"condition":{"test":"datum.value < 5 || datum.value > 5000","value":"transparent"},"value":"black"}}},"y":{"field":"lib","type":"quantitative","scale":{"domain":[0,106.5],"nice":false},"axis":{"values":[0,20,40,60,80,100],"title":"Cell number"}}}},
      {"mark":{"type":"line","color":"#e8343a","strokeWidth":2.5},"encoding":{"x":{"field":"x","type":"quantitative","scale":{"type":"log","domain":[1,13800],"nice":false}},"y":{"field":"lib","type":"quantitative","scale":{"domain":[0,106.5],"nice":false}}}},
      {"mark":{"type":"area","color":"#a0e8f8"},"encoding":{"x":{"field":"x","type":"quantitative","scale":{"type":"log","domain":[1,13800],"nice":false}},"y":{"field":"apt","type":"quantitative","scale":{"domain":[0,106.5],"nice":false}}}},
      {"transform":[{"fold":["lib","apt"],"as":["s","n"]}],"mark":{"type":"area","color":"#8b9eb7","opacity":0.85},"encoding":{"x":{"field":"x","type":"quantitative","scale":{"type":"log","domain":[1,13800],"nice":false}},"y":{"aggregate":"min","field":"n","type":"quantitative","scale":{"domain":[0,106.5],"nice":false}}}},
      {"mark":{"type":"line","color":"#26c0e8","strokeWidth":2.5},"encoding":{"x":{"field":"x","type":"quantitative","scale":{"type":"log","domain":[1,13800],"nice":false}},"y":{"field":"apt","type":"quantitative","scale":{"domain":[0,106.5],"nice":false}}}},
      {"data":{"values":[{"t":"(H)"}]},"mark":{"type":"text","align":"left","color":"black"},"encoding":{"x":{"datum":1.45,"type":"quantitative","scale":{"type":"log","domain":[1,13800],"nice":false}},"y":{"datum":93.2,"type":"quantitative","scale":{"domain":[0,106.5],"nice":false}},"text":{"field":"t"}}},
      {"data":{"values":[{"t":"Library"}]},"mark":{"type":"text","align":"center","color":"#e8232b"},"encoding":{"x":{"datum":930,"type":"quantitative","scale":{"type":"log","domain":[1,13800],"nice":false}},"y":{"datum":93.2,"type":"quantitative","scale":{"domain":[0,106.5],"nice":false}},"text":{"field":"t"}}},
      {"data":{"values":[{"t":"Aptamer L4"}]},"mark":{"type":"text","align":"center","color":"#27bfe6"},"encoding":{"x":{"datum":930,"type":"quantitative","scale":{"type":"log","domain":[1,13800],"nice":false}},"y":{"datum":76.5,"type":"quantitative","scale":{"domain":[0,106.5],"nice":false}},"text":{"field":"t"}}}
    ]},
    {"width":421,"height":416,"transform":[{"filter":"datum.p=='I'"}],"layer":[
      {"mark":{"type":"area","color":"#f8a4a6"},"encoding":{"x":{"field":"x","type":"quantitative","scale":{"type":"log","domain":[1,13800],"nice":false},"axis":{"values":[1,10,100,1000,10000],"title":"Fluorescence intensity/a.u.","labelExpr":"datum.value < 5 ? '10⁰' : datum.value < 50 ? '10¹' : datum.value < 500 ? '10²' : datum.value < 5000 ? '10³' : '10⁴'","tickColor":{"condition":{"test":"datum.value < 5 || datum.value > 5000","value":"transparent"},"value":"black"}}},"y":{"field":"lib","type":"quantitative","scale":{"domain":[0,106.5],"nice":false},"axis":{"values":[0,20,40,60,80,100],"title":"Cell number"}}}},
      {"mark":{"type":"line","color":"#e8343a","strokeWidth":2.5},"encoding":{"x":{"field":"x","type":"quantitative","scale":{"type":"log","domain":[1,13800],"nice":false}},"y":{"field":"lib","type":"quantitative","scale":{"domain":[0,106.5],"nice":false}}}},
      {"mark":{"type":"area","color":"#a0e8f8"},"encoding":{"x":{"field":"x","type":"quantitative","scale":{"type":"log","domain":[1,13800],"nice":false}},"y":{"field":"apt","type":"quantitative","scale":{"domain":[0,106.5],"nice":false}}}},
      {"transform":[{"fold":["lib","apt"],"as":["s","n"]}],"mark":{"type":"area","color":"#8b9eb7","opacity":0.85},"encoding":{"x":{"field":"x","type":"quantitative","scale":{"type":"log","domain":[1,13800],"nice":false}},"y":{"aggregate":"min","field":"n","type":"quantitative","scale":{"domain":[0,106.5],"nice":false}}}},
      {"mark":{"type":"line","color":"#26c0e8","strokeWidth":2.5},"encoding":{"x":{"field":"x","type":"quantitative","scale":{"type":"log","domain":[1,13800],"nice":false}},"y":{"field":"apt","type":"quantitative","scale":{"domain":[0,106.5],"nice":false}}}},
      {"data":{"values":[{"t":"(I)"}]},"mark":{"type":"text","align":"left","color":"black"},"encoding":{"x":{"datum":1.45,"type":"quantitative","scale":{"type":"log","domain":[1,13800],"nice":false}},"y":{"datum":93.2,"type":"quantitative","scale":{"domain":[0,106.5],"nice":false}},"text":{"field":"t"}}},
      {"data":{"values":[{"t":"Library"}]},"mark":{"type":"text","align":"center","color":"#e8232b"},"encoding":{"x":{"datum":930,"type":"quantitative","scale":{"type":"log","domain":[1,13800],"nice":false}},"y":{"datum":93.2,"type":"quantitative","scale":{"domain":[0,106.5],"nice":false}},"text":{"field":"t"}}},
      {"data":{"values":[{"t":"Aptamer L4"}]},"mark":{"type":"text","align":"center","color":"#27bfe6"},"encoding":{"x":{"datum":930,"type":"quantitative","scale":{"type":"log","domain":[1,13800],"nice":false}},"y":{"datum":76.5,"type":"quantitative","scale":{"domain":[0,106.5],"nice":false}},"text":{"field":"t"}}}
    ]},
    {"width":421,"height":416,"transform":[{"filter":"datum.p=='J'"}],"layer":[
      {"mark":{"type":"area","color":"#f8a4a6"},"encoding":{"x":{"field":"x","type":"quantitative","scale":{"type":"log","domain":[1,13800],"nice":false},"axis":{"values":[1,10,100,1000,10000],"title":"Fluorescence intensity/a.u.","labelExpr":"datum.value < 5 ? '10⁰' : datum.value < 50 ? '10¹' : datum.value < 500 ? '10²' : datum.value < 5000 ? '10³' : '10⁴'","tickColor":{"condition":{"test":"datum.value < 5 || datum.value > 5000","value":"transparent"},"value":"black"}}},"y":{"field":"lib","type":"quantitative","scale":{"domain":[0,106.5],"nice":false},"axis":{"values":[0,20,40,60,80,100],"title":"Cell number"}}}},
      {"mark":{"type":"line","color":"#e8343a","strokeWidth":2.5},"encoding":{"x":{"field":"x","type":"quantitative","scale":{"type":"log","domain":[1,13800],"nice":false}},"y":{"field":"lib","type":"quantitative","scale":{"domain":[0,106.5],"nice":false}}}},
      {"mark":{"type":"area","color":"#a0e8f8"},"encoding":{"x":{"field":"x","type":"quantitative","scale":{"type":"log","domain":[1,13800],"nice":false}},"y":{"field":"apt","type":"quantitative","scale":{"domain":[0,106.5],"nice":false}}}},
      {"transform":[{"fold":["lib","apt"],"as":["s","n"]}],"mark":{"type":"area","color":"#8b9eb7","opacity":0.85},"encoding":{"x":{"field":"x","type":"quantitative","scale":{"type":"log","domain":[1,13800],"nice":false}},"y":{"aggregate":"min","field":"n","type":"quantitative","scale":{"domain":[0,106.5],"nice":false}}}},
      {"mark":{"type":"line","color":"#26c0e8","strokeWidth":2.5},"encoding":{"x":{"field":"x","type":"quantitative","scale":{"type":"log","domain":[1,13800],"nice":false}},"y":{"field":"apt","type":"quantitative","scale":{"domain":[0,106.5],"nice":false}}}},
      {"data":{"values":[{"t":"(J)"}]},"mark":{"type":"text","align":"left","color":"black"},"encoding":{"x":{"datum":1.45,"type":"quantitative","scale":{"type":"log","domain":[1,13800],"nice":false}},"y":{"datum":93.2,"type":"quantitative","scale":{"domain":[0,106.5],"nice":false}},"text":{"field":"t"}}},
      {"data":{"values":[{"t":"Library"}]},"mark":{"type":"text","align":"center","color":"#e8232b"},"encoding":{"x":{"datum":930,"type":"quantitative","scale":{"type":"log","domain":[1,13800],"nice":false}},"y":{"datum":93.2,"type":"quantitative","scale":{"domain":[0,106.5],"nice":false}},"text":{"field":"t"}}},
      {"data":{"values":[{"t":"Aptamer L4"}]},"mark":{"type":"text","align":"center","color":"#27bfe6"},"encoding":{"x":{"datum":930,"type":"quantitative","scale":{"type":"log","domain":[1,13800],"nice":false}},"y":{"datum":76.5,"type":"quantitative","scale":{"domain":[0,106.5],"nice":false}},"text":{"field":"t"}}}
    ]},
    {"width":421,"height":416,"transform":[{"filter":"datum.p=='K'"}],"layer":[
      {"mark":{"type":"area","color":"#f8a4a6"},"encoding":{"x":{"field":"x","type":"quantitative","scale":{"type":"log","domain":[1,13800],"nice":false},"axis":{"values":[1,10,100,1000,10000],"title":"Fluorescence intensity/a.u.","labelExpr":"datum.value < 5 ? '10⁰' : datum.value < 50 ? '10¹' : datum.value < 500 ? '10²' : datum.value < 5000 ? '10³' : '10⁴'","tickColor":{"condition":{"test":"datum.value < 5 || datum.value > 5000","value":"transparent"},"value":"black"}}},"y":{"field":"lib","type":"quantitative","scale":{"domain":[0,106.5],"nice":false},"axis":{"values":[0,20,40,60,80,100],"title":"Cell number"}}}},
      {"mark":{"type":"line","color":"#e8343a","strokeWidth":2.5},"encoding":{"x":{"field":"x","type":"quantitative","scale":{"type":"log","domain":[1,13800],"nice":false}},"y":{"field":"lib","type":"quantitative","scale":{"domain":[0,106.5],"nice":false}}}},
      {"mark":{"type":"area","color":"#a0e8f8"},"encoding":{"x":{"field":"x","type":"quantitative","scale":{"type":"log","domain":[1,13800],"nice":false}},"y":{"field":"apt","type":"quantitative","scale":{"domain":[0,106.5],"nice":false}}}},
      {"transform":[{"fold":["lib","apt"],"as":["s","n"]}],"mark":{"type":"area","color":"#8b9eb7","opacity":0.85},"encoding":{"x":{"field":"x","type":"quantitative","scale":{"type":"log","domain":[1,13800],"nice":false}},"y":{"aggregate":"min","field":"n","type":"quantitative","scale":{"domain":[0,106.5],"nice":false}}}},
      {"mark":{"type":"line","color":"#26c0e8","strokeWidth":2.5},"encoding":{"x":{"field":"x","type":"quantitative","scale":{"type":"log","domain":[1,13800],"nice":false}},"y":{"field":"apt","type":"quantitative","scale":{"domain":[0,106.5],"nice":false}}}},
      {"data":{"values":[{"t":"(K)"}]},"mark":{"type":"text","align":"left","color":"black"},"encoding":{"x":{"datum":1.45,"type":"quantitative","scale":{"type":"log","domain":[1,13800],"nice":false}},"y":{"datum":93.2,"type":"quantitative","scale":{"domain":[0,106.5],"nice":false}},"text":{"field":"t"}}},
      {"data":{"values":[{"t":"Library"}]},"mark":{"type":"text","align":"center","color":"#e8232b"},"encoding":{"x":{"datum":930,"type":"quantitative","scale":{"type":"log","domain":[1,13800],"nice":false}},"y":{"datum":93.2,"type":"quantitative","scale":{"domain":[0,106.5],"nice":false}},"text":{"field":"t"}}},
      {"data":{"values":[{"t":"Aptamer L4"}]},"mark":{"type":"text","align":"center","color":"#27bfe6"},"encoding":{"x":{"datum":930,"type":"quantitative","scale":{"type":"log","domain":[1,13800],"nice":false}},"y":{"datum":76.5,"type":"quantitative","scale":{"domain":[0,106.5],"nice":false}},"text":{"field":"t"}}}
    ]},
    {"width":421,"height":416,"data":{"values":[]},"mark":"point","encoding":{},"view":{"stroke":null}},
    {"width":421,"height":416,"transform":[{"filter":"datum.p=='L'"}],"layer":[
      {"mark":{"type":"area","color":"#f8a4a6"},"encoding":{"x":{"field":"x","type":"quantitative","scale":{"type":"log","domain":[1,13800],"nice":false},"axis":{"values":[1,10,100,1000,10000],"title":"Fluorescence intensity/a.u.","labelExpr":"datum.value < 5 ? '10⁰' : datum.value < 50 ? '10¹' : datum.value < 500 ? '10²' : datum.value < 5000 ? '10³' : '10⁴'","tickColor":{"condition":{"test":"datum.value < 5 || datum.value > 5000","value":"transparent"},"value":"black"}}},"y":{"field":"lib","type":"quantitative","scale":{"domain":[0,106.5],"nice":false},"axis":{"values":[0,20,40,60,80,100],"title":"Cell number/a.u."}}}},
      {"mark":{"type":"line","color":"#e8343a","strokeWidth":2.5},"encoding":{"x":{"field":"x","type":"quantitative","scale":{"type":"log","domain":[1,13800],"nice":false}},"y":{"field":"lib","type":"quantitative","scale":{"domain":[0,106.5],"nice":false}}}},
      {"mark":{"type":"area","color":"#a0e8f8"},"encoding":{"x":{"field":"x","type":"quantitative","scale":{"type":"log","domain":[1,13800],"nice":false}},"y":{"field":"apt","type":"quantitative","scale":{"domain":[0,106.5],"nice":false}}}},
      {"transform":[{"fold":["lib","apt"],"as":["s","n"]}],"mark":{"type":"area","color":"#8b9eb7","opacity":0.85},"encoding":{"x":{"field":"x","type":"quantitative","scale":{"type":"log","domain":[1,13800],"nice":false}},"y":{"aggregate":"min","field":"n","type":"quantitative","scale":{"domain":[0,106.5],"nice":false}}}},
      {"mark":{"type":"line","color":"#26c0e8","strokeWidth":2.5},"encoding":{"x":{"field":"x","type":"quantitative","scale":{"type":"log","domain":[1,13800],"nice":false}},"y":{"field":"apt","type":"quantitative","scale":{"domain":[0,106.5],"nice":false}}}},
      {"data":{"values":[{"t":"(L)"}]},"mark":{"type":"text","align":"left","color":"black"},"encoding":{"x":{"datum":1.45,"type":"quantitative","scale":{"type":"log","domain":[1,13800],"nice":false}},"y":{"datum":93.2,"type":"quantitative","scale":{"domain":[0,106.5],"nice":false}},"text":{"field":"t"}}},
      {"data":{"values":[{"t":"Library"}]},"mark":{"type":"text","align":"center","color":"#e8232b"},"encoding":{"x":{"datum":930,"type":"quantitative","scale":{"type":"log","domain":[1,13800],"nice":false}},"y":{"datum":93.2,"type":"quantitative","scale":{"domain":[0,106.5],"nice":false}},"text":{"field":"t"}}},
      {"data":{"values":[{"t":"Aptamer L4"}]},"mark":{"type":"text","align":"center","color":"#27bfe6"},"encoding":{"x":{"datum":930,"type":"quantitative","scale":{"type":"log","domain":[1,13800],"nice":false}},"y":{"datum":76.5,"type":"quantitative","scale":{"domain":[0,106.5],"nice":false}},"text":{"field":"t"}}}
    ]},
    {"width":421,"height":416,"transform":[{"filter":"datum.p=='M'"}],"layer":[
      {"mark":{"type":"area","color":"#f8a4a6"},"encoding":{"x":{"field":"x","type":"quantitative","scale":{"type":"log","domain":[1,13800],"nice":false},"axis":{"values":[1,10,100,1000,10000],"title":"Fluorescence intensity/a.u.","labelExpr":"datum.value < 5 ? '10⁰' : datum.value < 50 ? '10¹' : datum.value < 500 ? '10²' : datum.value < 5000 ? '10³' : '10⁴'","tickColor":{"condition":{"test":"datum.value < 5 || datum.value > 5000","value":"transparent"},"value":"black"}}},"y":{"field":"lib","type":"quantitative","scale":{"domain":[0,106.5],"nice":false},"axis":{"values":[0,20,40,60,80,100],"title":"Cell number/a.u."}}}},
      {"mark":{"type":"line","color":"#e8343a","strokeWidth":2.5},"encoding":{"x":{"field":"x","type":"quantitative","scale":{"type":"log","domain":[1,13800],"nice":false}},"y":{"field":"lib","type":"quantitative","scale":{"domain":[0,106.5],"nice":false}}}},
      {"mark":{"type":"area","color":"#a0e8f8"},"encoding":{"x":{"field":"x","type":"quantitative","scale":{"type":"log","domain":[1,13800],"nice":false}},"y":{"field":"apt","type":"quantitative","scale":{"domain":[0,106.5],"nice":false}}}},
      {"transform":[{"fold":["lib","apt"],"as":["s","n"]}],"mark":{"type":"area","color":"#8b9eb7","opacity":0.85},"encoding":{"x":{"field":"x","type":"quantitative","scale":{"type":"log","domain":[1,13800],"nice":false}},"y":{"aggregate":"min","field":"n","type":"quantitative","scale":{"domain":[0,106.5],"nice":false}}}},
      {"mark":{"type":"line","color":"#26c0e8","strokeWidth":2.5},"encoding":{"x":{"field":"x","type":"quantitative","scale":{"type":"log","domain":[1,13800],"nice":false}},"y":{"field":"apt","type":"quantitative","scale":{"domain":[0,106.5],"nice":false}}}},
      {"data":{"values":[{"t":"(M)"}]},"mark":{"type":"text","align":"left","color":"black"},"encoding":{"x":{"datum":1.45,"type":"quantitative","scale":{"type":"log","domain":[1,13800],"nice":false}},"y":{"datum":93.2,"type":"quantitative","scale":{"domain":[0,106.5],"nice":false}},"text":{"field":"t"}}},
      {"data":{"values":[{"t":"Library"}]},"mark":{"type":"text","align":"center","color":"#e8232b"},"encoding":{"x":{"datum":930,"type":"quantitative","scale":{"type":"log","domain":[1,13800],"nice":false}},"y":{"datum":93.2,"type":"quantitative","scale":{"domain":[0,106.5],"nice":false}},"text":{"field":"t"}}},
      {"data":{"values":[{"t":"Aptamer L4"}]},"mark":{"type":"text","align":"center","color":"#27bfe6"},"encoding":{"x":{"datum":930,"type":"quantitative","scale":{"type":"log","domain":[1,13800],"nice":false}},"y":{"datum":76.5,"type":"quantitative","scale":{"domain":[0,106.5],"nice":false}},"text":{"field":"t"}}}
    ]},
    {"width":421,"height":416,"transform":[{"filter":"datum.p=='N'"}],"layer":[
      {"mark":{"type":"area","color":"#f8a4a6"},"encoding":{"x":{"field":"x","type":"quantitative","scale":{"type":"log","domain":[1,13800],"nice":false},"axis":{"values":[1,10,100,1000,10000],"title":"Fluorescence intensity/a.u.","labelExpr":"datum.value < 5 ? '10⁰' : datum.value < 50 ? '10¹' : datum.value < 500 ? '10²' : datum.value < 5000 ? '10³' : '10⁴'","tickColor":{"condition":{"test":"datum.value < 5 || datum.value > 5000","value":"transparent"},"value":"black"}}},"y":{"field":"lib","type":"quantitative","scale":{"domain":[0,106.5],"nice":false},"axis":{"values":[0,20,40,60,80,100],"title":"Cell number/a.u."}}}},
      {"mark":{"type":"line","color":"#e8343a","strokeWidth":2.5},"encoding":{"x":{"field":"x","type":"quantitative","scale":{"type":"log","domain":[1,13800],"nice":false}},"y":{"field":"lib","type":"quantitative","scale":{"domain":[0,106.5],"nice":false}}}},
      {"mark":{"type":"area","color":"#a0e8f8"},"encoding":{"x":{"field":"x","type":"quantitative","scale":{"type":"log","domain":[1,13800],"nice":false}},"y":{"field":"apt","type":"quantitative","scale":{"domain":[0,106.5],"nice":false}}}},
      {"transform":[{"fold":["lib","apt"],"as":["s","n"]}],"mark":{"type":"area","color":"#8b9eb7","opacity":0.85},"encoding":{"x":{"field":"x","type":"quantitative","scale":{"type":"log","domain":[1,13800],"nice":false}},"y":{"aggregate":"min","field":"n","type":"quantitative","scale":{"domain":[0,106.5],"nice":false}}}},
      {"mark":{"type":"line","color":"#26c0e8","strokeWidth":2.5},"encoding":{"x":{"field":"x","type":"quantitative","scale":{"type":"log","domain":[1,13800],"nice":false}},"y":{"field":"apt","type":"quantitative","scale":{"domain":[0,106.5],"nice":false}}}},
      {"data":{"values":[{"t":"(N)"}]},"mark":{"type":"text","align":"left","color":"black"},"encoding":{"x":{"datum":1.45,"type":"quantitative","scale":{"type":"log","domain":[1,13800],"nice":false}},"y":{"datum":93.2,"type":"quantitative","scale":{"domain":[0,106.5],"nice":false}},"text":{"field":"t"}}},
      {"data":{"values":[{"t":"Library"}]},"mark":{"type":"text","align":"center","color":"#e8232b"},"encoding":{"x":{"datum":930,"type":"quantitative","scale":{"type":"log","domain":[1,13800],"nice":false}},"y":{"datum":93.2,"type":"quantitative","scale":{"domain":[0,106.5],"nice":false}},"text":{"field":"t"}}},
      {"data":{"values":[{"t":"Aptamer L4"}]},"mark":{"type":"text","align":"center","color":"#27bfe6"},"encoding":{"x":{"datum":930,"type":"quantitative","scale":{"type":"log","domain":[1,13800],"nice":false}},"y":{"datum":76.5,"type":"quantitative","scale":{"domain":[0,106.5],"nice":false}},"text":{"field":"t"}}}
    ]},
    {"width":421,"height":416,"transform":[{"filter":"datum.p=='O'"}],"layer":[
      {"mark":{"type":"area","color":"#f8a4a6"},"encoding":{"x":{"field":"x","type":"quantitative","scale":{"type":"log","domain":[1,13800],"nice":false},"axis":{"values":[1,10,100,1000,10000],"title":"Fluorescence intensity/a.u.","labelExpr":"datum.value < 5 ? '10⁰' : datum.value < 50 ? '10¹' : datum.value < 500 ? '10²' : datum.value < 5000 ? '10³' : '10⁴'","tickColor":{"condition":{"test":"datum.value < 5 || datum.value > 5000","value":"transparent"},"value":"black"}}},"y":{"field":"lib","type":"quantitative","scale":{"domain":[0,106.5],"nice":false},"axis":{"values":[0,20,40,60,80,100],"title":"Cell number/a.u."}}}},
      {"mark":{"type":"line","color":"#e8343a","strokeWidth":2.5},"encoding":{"x":{"field":"x","type":"quantitative","scale":{"type":"log","domain":[1,13800],"nice":false}},"y":{"field":"lib","type":"quantitative","scale":{"domain":[0,106.5],"nice":false}}}},
      {"mark":{"type":"area","color":"#a0e8f8"},"encoding":{"x":{"field":"x","type":"quantitative","scale":{"type":"log","domain":[1,13800],"nice":false}},"y":{"field":"apt","type":"quantitative","scale":{"domain":[0,106.5],"nice":false}}}},
      {"transform":[{"fold":["lib","apt"],"as":["s","n"]}],"mark":{"type":"area","color":"#8b9eb7","opacity":0.85},"encoding":{"x":{"field":"x","type":"quantitative","scale":{"type":"log","domain":[1,13800],"nice":false}},"y":{"aggregate":"min","field":"n","type":"quantitative","scale":{"domain":[0,106.5],"nice":false}}}},
      {"mark":{"type":"line","color":"#26c0e8","strokeWidth":2.5},"encoding":{"x":{"field":"x","type":"quantitative","scale":{"type":"log","domain":[1,13800],"nice":false}},"y":{"field":"apt","type":"quantitative","scale":{"domain":[0,106.5],"nice":false}}}},
      {"data":{"values":[{"t":"(O)"}]},"mark":{"type":"text","align":"left","color":"black"},"encoding":{"x":{"datum":1.45,"type":"quantitative","scale":{"type":"log","domain":[1,13800],"nice":false}},"y":{"datum":93.2,"type":"quantitative","scale":{"domain":[0,106.5],"nice":false}},"text":{"field":"t"}}},
      {"data":{"values":[{"t":"Library"}]},"mark":{"type":"text","align":"center","color":"#e8232b"},"encoding":{"x":{"datum":930,"type":"quantitative","scale":{"type":"log","domain":[1,13800],"nice":false}},"y":{"datum":93.2,"type":"quantitative","scale":{"domain":[0,106.5],"nice":false}},"text":{"field":"t"}}},
      {"data":{"values":[{"t":"Aptamer L4"}]},"mark":{"type":"text","align":"center","color":"#27bfe6"},"encoding":{"x":{"datum":930,"type":"quantitative","scale":{"type":"log","domain":[1,13800],"nice":false}},"y":{"datum":76.5,"type":"quantitative","scale":{"domain":[0,106.5],"nice":false}},"text":{"field":"t"}}}
    ]}
  ],
  "config": {
    "view": {"stroke": "black", "strokeWidth": 3.5},
    "font": "Liberation Serif",
    "axis": {"domain": false, "grid": false, "labelFont": "Liberation Serif", "labelFontSize": 42, "labelColor": "black", "titleFont": "Liberation Serif", "titleColor": "black", "tickWidth": 3, "labelFlush": false, "labelOverlap": false},
    "axisX": {"tickSize": -14, "labelPadding": 42, "titlePadding": 28, "titleFontSize": 44, "titleFontWeight": "normal", "labelFont": "DejaVu Serif", "labelFontSize": 35},
    "axisY": {"tickSize": -15, "labelPadding": 26, "titlePadding": 4, "titleFontSize": 44, "titleFontWeight": "normal"},
    "text": {"font": "Liberation Serif", "fontSize": 44, "baseline": "alphabetic"}
  }
}
